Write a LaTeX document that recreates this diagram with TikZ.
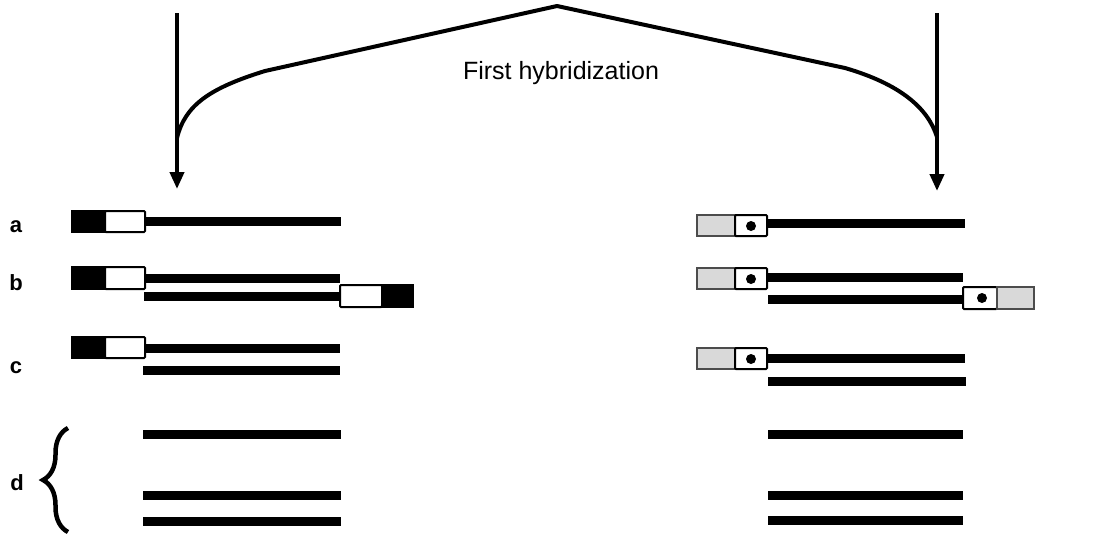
\documentclass[tikz,border=0pt]{standalone}
\usepackage{fontspec}
\setmainfont{Liberation Sans}
\usetikzlibrary{arrows.meta,decorations.pathreplacing,positioning}

\begin{document}
\begin{tikzpicture}[x=1pt, y=-1pt,
        strand/.style={line width=9pt},
        blackend/.style={draw, line width=1.5pt, fill=black},
        greyend/.style={draw=black!70, line width=1.5pt, fill=gray!30},
        whitebox/.style={draw, line width=2pt, fill=white, rounded corners=1pt},
        letter/.style={font=\fontsize{22}{24}\selectfont\bfseries, anchor=base},
        hybarrow/.style={line width=4pt, -{Triangle[width=14pt,length=17pt]}}]
    \useasboundingbox (0,0) rectangle (1106,542);

    % arrows of the first hybridization
    \coordinate (ltop) at (177,13);
    \coordinate (ltip) at (177,189);
    \coordinate (rtop) at (937,13);
    \coordinate (rtip) at (937,191);
    \coordinate (apex) at (557,6);
    \coordinate (ljoin) at (177,138);
    \coordinate (rjoin) at (937,137);
    \draw[hybarrow] (ltop) -- (ltip);
    \draw[hybarrow] (rtop) -- (rtip);
    \draw[line width=4pt, line join=round] (ljoin) .. controls (185,105) and (210,88) .. (265,71)
        -- (apex) -- (845,68) .. controls (900,84) and (928,108) .. (rjoin);
    \node[font=\fontsize{25}{27}\selectfont] (title) at (561,73) {First hybridization};

    % row labels
    \node[letter] (la) at (16,232) {a};
    \node[letter] (lb) at (16,290) {b};
    \node[letter] (lc) at (16,373) {c};
    \node[letter] (ld) at (17,490) {d};
    \draw[line width=4.5pt, decorate, decoration={brace, amplitude=25pt}] (68,532) -- (68,428);

    % left: a
    \filldraw[blackend] (72,211) rectangle (105,232);
    \draw[whitebox] (105,211) rectangle (145,232);
    \draw[strand] (146,221) -- (341,221);
    % left: b
    \filldraw[blackend] (72,267) rectangle (105,289);
    \draw[whitebox] (105,267) rectangle (145,289);
    \draw[strand] (146,278) -- (340,278);
    \draw[strand] (144,296) -- (340,296);
    \draw[whitebox] (340,285) rectangle (382,307);
    \filldraw[blackend] (382,285) rectangle (413,307);
    % left: c
    \filldraw[blackend] (72,337) rectangle (105,358);
    \draw[whitebox] (105,337) rectangle (145,358);
    \draw[strand] (146,348) -- (340,348);
    \draw[strand] (143,370) -- (340,370);
    % left: d
    \foreach \y in {434,495,521}
        \draw[strand] (143,\y) -- (341,\y);

    % right: a
    \filldraw[greyend] (697,215) rectangle (735,236);
    \draw[whitebox] (735,215) rectangle (767,236);
    \fill (751,226) circle (5pt);
    \draw[strand] (768,223) -- (965,223);
    % right: b
    \filldraw[greyend] (697,268) rectangle (735,289);
    \draw[whitebox] (735,268) rectangle (767,289);
    \fill (751,279) circle (5pt);
    \draw[strand] (768,277) -- (963,277);
    \draw[strand] (768,299) -- (963,299);
    \draw[whitebox] (963,287) rectangle (997,309);
    \fill (982,298) circle (5pt);
    \filldraw[greyend] (997,287) rectangle (1034,309);
    % right: c
    \filldraw[greyend] (697,348) rectangle (735,369);
    \draw[whitebox] (735,348) rectangle (767,369);
    \fill (751,359) circle (5pt);
    \draw[strand] (768,358) -- (965,358);
    \draw[strand] (768,381) -- (966,381);
    % right: d
    \foreach \y in {434,495,520}
        \draw[strand] (768,\y) -- (963,\y);
\end{tikzpicture}
\end{document}
